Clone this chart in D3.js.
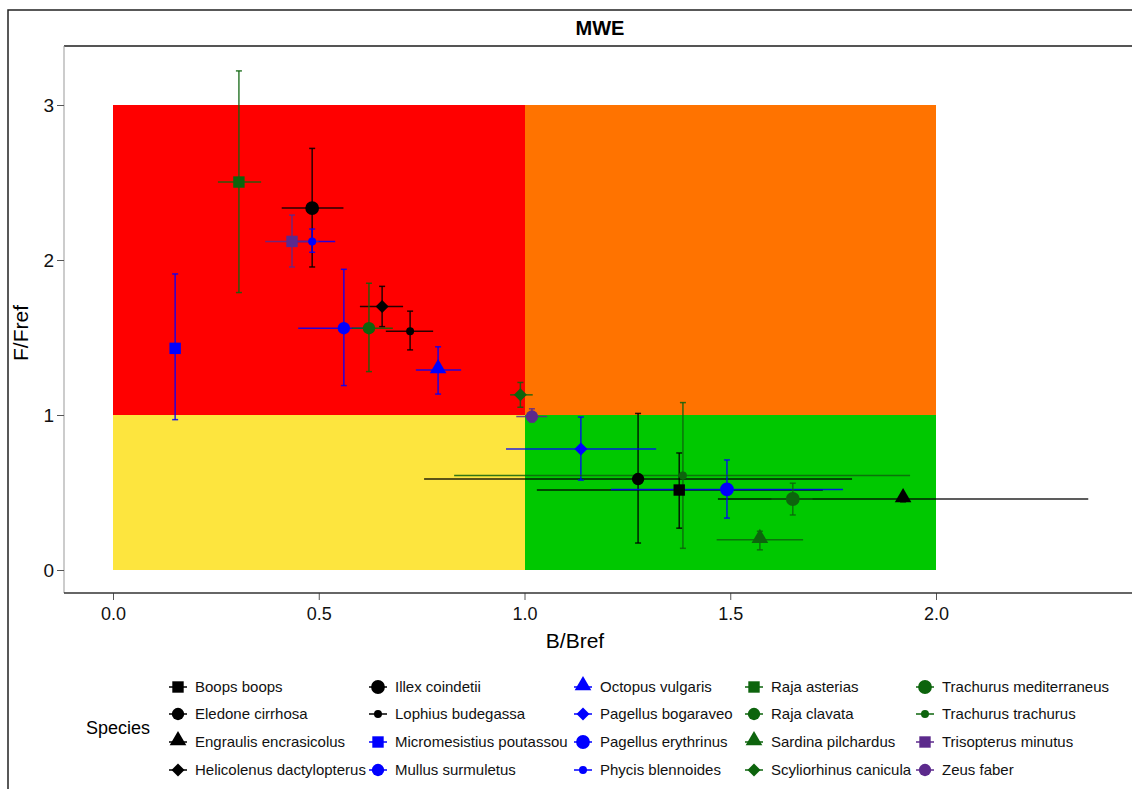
<!DOCTYPE html>
<html>
<head>
<meta charset="utf-8">
<script src="https://cdn.jsdelivr.net/npm/d3@7"></script>
<style>
body { margin:0; background:#fff; }
svg { font-family: "Liberation Sans", Arial, sans-serif; }
</style>
</head>
<body>
<div id="chart"></div>
<script>
// data
var species = ["Boops boops","Eledone cirrhosa","Engraulis encrasicolus","Helicolenus dactylopterus",
  "Illex coindetii","Lophius budegassa","Micromesistius poutassou","Mullus surmuletus",
  "Octopus vulgaris","Pagellus bogaraveo","Pagellus erythrinus","Phycis blennoides",
  "Raja asterias","Raja clavata","Sardina pilchardus","Scyliorhinus canicula",
  "Trachurus mediterraneus","Trachurus trachurus","Trisopterus minutus","Zeus faber"];
var bRatio = [1.376,1.276,1.92,0.654,0.484,0.722,0.151,0.561,0.79,1.137,1.492,0.484,0.306,0.622,1.572,0.99,1.652,1.385,0.435,1.018];
var fRatio = [0.516,0.587,0.458,1.70,2.335,1.54,1.43,1.56,1.29,0.78,0.52,2.12,2.503,1.56,0.195,1.13,0.458,0.61,2.12,0.99];
var bLow  = [1.03,0.756,1.47,0.60,0.41,0.663,0.14,0.45,0.736,0.955,1.21,0.43,0.255,0.58,1.467,0.965,1.60,0.829,0.37,0.98];
var bHigh = [1.725,1.796,2.37,0.705,0.56,0.778,0.16,0.63,0.846,1.32,1.774,0.54,0.36,0.68,1.677,1.02,1.70,1.937,0.50,1.055];
var fLow  = [0.27,0.174,0.44,1.57,1.955,1.42,0.97,1.19,1.135,0.58,0.335,2.05,1.79,1.28,0.13,1.05,0.355,0.14,1.955,0.955];
var fHigh = [0.755,1.01,0.475,1.83,2.72,1.67,1.91,1.94,1.44,0.987,0.71,2.2,3.22,1.85,0.25,1.21,0.56,1.08,2.29,1.04];
var shapes = ["square","circle","triangle","diamond","bigcircle","bullet"];
var groupColors = ["#000000","#0000ff","#0d640d","#5c2a8c"];
var xTicks = [0,0.5,1,1.5,2];
var yTicks = [0,1,2,3];
// status zones: [bFrom,bTo,fFrom,fTo,colour]
var zones = [[0,1,1,3,"#ff0000"],[1,2,1,3,"#ff7300"],[0,1,0,1,"#fde53e"],[1,2,0,1,"#00c800"]];

var data = species.map(function(s,i){
  return {name:s, b:bRatio[i], f:fRatio[i], bl:bLow[i], bh:bHigh[i], fl:fLow[i], fh:fHigh[i],
    shape:shapes[i%6], color:groupColors[Math.floor(i/6)]};
});

var W = 1132, H = 789;
var svg = d3.select('#chart').append('svg').attr('width',W).attr('height',H);

var scaleX = d3.scaleLinear().domain([0,2]).range([113,936]);
var scaleY = d3.scaleLinear().domain([0,3]).range([570,105]);

// outer frame
svg.append('path').attr('d','M8,'+H+'V10H'+W).attr('fill','none').attr('stroke','#222').attr('stroke-width',1.5);

svg.append('text').attr('x',600).attr('y',35).attr('text-anchor','middle')
  .attr('font-size',20).attr('font-weight','bold').text('MWE');

// zones
svg.selectAll('.zone').data(zones).enter().append('rect')
  .attr('x',function(d){return scaleX(d[0]);})
  .attr('width',function(d){return scaleX(d[1])-scaleX(d[0]);})
  .attr('y',function(d){return scaleY(d[3]);})
  .attr('height',function(d){return scaleY(d[2])-scaleY(d[3]);})
  .attr('fill',function(d){return d[4];})
  .attr('shape-rendering','crispEdges');

// panel lines
svg.append('line').attr('x1',64).attr('x2',W).attr('y1',46).attr('y2',46).attr('stroke','#555').attr('stroke-width',2);
svg.append('line').attr('x1',64).attr('x2',64).attr('y1',46).attr('y2',593).attr('stroke','#999').attr('stroke-width',1);

var axisX = svg.append('g').attr('transform','translate(0,593)')
  .call(d3.axisBottom(scaleX).tickValues(xTicks).tickFormat(d3.format('.1f')).tickSize(7).tickSizeOuter(0));
axisX.select('.domain').remove();
axisX.append('line').attr('x1',64).attr('x2',W).attr('stroke','#333').attr('stroke-width',1.5);
axisX.selectAll('.tick line').attr('stroke','#555');
axisX.selectAll('.tick text').attr('font-size',18).attr('fill','#111').attr('dy','0.95em')
  .attr('font-family','"Liberation Sans", Arial, sans-serif');

var axisY = svg.append('g').attr('transform','translate(64,0)')
  .call(d3.axisLeft(scaleY).tickValues(yTicks).tickFormat(d3.format('d')).tickSize(7).tickSizeOuter(0));
axisY.select('.domain').remove();
axisY.selectAll('.tick line').attr('stroke','#555');
axisY.selectAll('.tick text').attr('font-size',19).attr('fill','#111')
  .attr('font-family','"Liberation Sans", Arial, sans-serif');

svg.append('text').attr('x',575).attr('y',648).attr('text-anchor','middle').attr('font-size',21).text('B/Bref');
svg.append('text').attr('transform','translate(28,333) rotate(-90)').attr('text-anchor','middle')
  .attr('font-size',21).text('F/Fref');

// error bars (caps only on the vertical ones)
var bars = svg.append('g');
var cap = 3;
data.forEach(function(d){
  var g = bars.append('g').attr('stroke',d.color).attr('stroke-width',1.5).attr('stroke-opacity',0.85);
  var cx = scaleX(d.b), cy = scaleY(d.f);
  g.append('line').attr('x1',cx).attr('x2',cx).attr('y1',scaleY(d.fl)).attr('y2',scaleY(d.fh));
  g.append('line').attr('x1',cx-cap).attr('x2',cx+cap).attr('y1',scaleY(d.fl)).attr('y2',scaleY(d.fl));
  g.append('line').attr('x1',cx-cap).attr('x2',cx+cap).attr('y1',scaleY(d.fh)).attr('y2',scaleY(d.fh));
  g.append('line').attr('x1',scaleX(d.bl)).attr('x2',scaleX(d.bh)).attr('y1',cy).attr('y2',cy);
});

function markerPath(shape){
  if (shape=='square') return d3.symbol().type(d3.symbolSquare).size(130)();
  if (shape=='circle') return d3.symbol().type(d3.symbolCircle).size(120)();
  if (shape=='bigcircle') return d3.symbol().type(d3.symbolCircle).size(150)();
  if (shape=='bullet') return d3.symbol().type(d3.symbolCircle).size(50)();
  if (shape=='triangle') return d3.symbol().type(d3.symbolTriangle).size(120)();
  if (shape=='diamond') return 'M0,-6.5L6.5,0L0,6.5L-6.5,0Z';
}

svg.selectAll('.pt').data(data).enter().append('path')
  .attr('class','pt')
  .attr('transform',function(d){
    var dy = d.shape=='triangle' ? -1.5 : 0;
    return 'translate('+scaleX(d.b)+','+(scaleY(d.f)+dy)+')';})
  .attr('d',function(d){return markerPath(d.shape);})
  .attr('fill',function(d){return d.color;});

// legend
var legend = svg.append('g');
legend.append('text').attr('x',86).attr('y',734).attr('font-size',18).text('Species');
var colKey = [178,378,583,754,925];
var rowY = [687,714,742,770];
data.forEach(function(d,i){
  var col = Math.floor(i/4), row = i%4;
  var g = legend.append('g').attr('transform','translate('+colKey[col]+','+rowY[row]+')');
  g.append('line').attr('x1',-9).attr('x2',9).attr('stroke',d.color).attr('stroke-width',1.5);
  g.append('path').attr('d',markerPath(d.shape)).attr('fill',d.color)
    .attr('transform', d.shape=='triangle' ? 'translate(0,-1.5)' : null);
  g.append('text').attr('x',17).attr('y',5).attr('font-size',15).attr('fill','#111').text(d.name);
});
</script>
</body>
</html>
